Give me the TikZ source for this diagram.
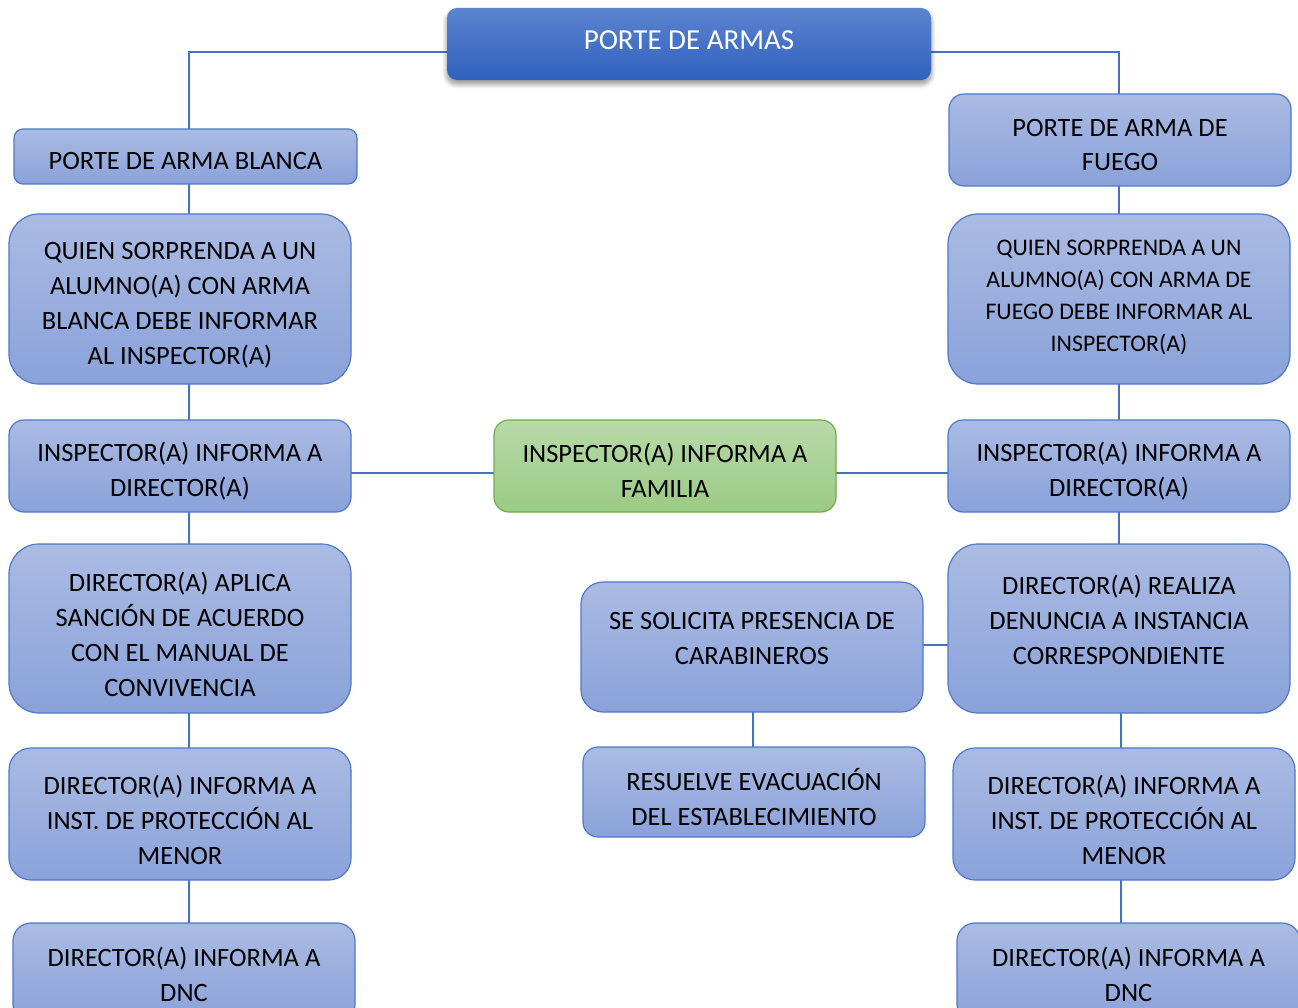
\documentclass[tikz,border=0pt]{standalone}
\usepackage{fontspec}
\setmainfont{Carlito}
\usetikzlibrary{shadows.blur,backgrounds}
\definecolor{btop}{HTML}{AABBE3}
\definecolor{bbot}{HTML}{8AA2DA}
\definecolor{bdraw}{HTML}{4F78C8}
\definecolor{gtop}{HTML}{B7DAA8}
\definecolor{gbot}{HTML}{9BCB84}
\definecolor{gdraw}{HTML}{70AD47}
\definecolor{ttop}{HTML}{5C84D0}
\definecolor{tbot}{HTML}{2F61BE}
\definecolor{conn}{HTML}{4472C4}
\tikzset{
 box/.style={draw=bdraw, line width=1.2pt, top color=btop, bottom color=bbot, outer sep=0pt, inner sep=0pt},
 gbox/.style={draw=gdraw, line width=1.2pt, top color=gtop, bottom color=gbot, outer sep=0pt, inner sep=0pt},
 tbox/.style={top color=ttop, bottom color=tbot, draw=none, outer sep=0pt, inner sep=0pt,
   blur shadow={shadow xshift=0pt, shadow yshift=-4pt, shadow blur radius=5pt, shadow blur steps=10, shadow opacity=45}},
 txt/.style={align=center, inner sep=0pt, font=\fontsize{26.5}{35}\selectfont},
 txtsmall/.style={align=center, inner sep=0pt, font=\fontsize{23.8}{32}\selectfont},
 ttxt/.style={align=center, inner sep=0pt, text=white, font=\fontsize{29}{35}\selectfont},
 conline/.style={draw=conn, line width=1.6pt},
}
% #1 style, #2 name, #3 x1, #4 y1, #5 x2, #6 y2, #7 radius, #8 text y, #9 text
\newcommand\bx[9]{%
 \node[#1, rounded corners=#7pt, minimum width={(#5-#3)*1pt}, minimum height={(#6-#4)*1pt}] (#2) at ({(#3+#5)/2},{(#4+#6)/2}) {};
 \node[txt] (#2t) at ({(#3+#5)/2},#8+1.5) {#9};
}
\begin{document}
\begin{tikzpicture}[x=1pt,y=-1pt]
\useasboundingbox (0,0) rectangle (1298,1008);
\coordinate (lx) at (189,0);
\coordinate (rx) at (1119,0);
\coordinate (rx2) at (1121,0);
\coordinate (cx) at (753,0);
\coordinate (hy) at (0,473);
\coordinate (sy) at (0,645);
\coordinate (ty) at (0,52);

% title
\node[tbox, rounded corners=10pt, minimum width=484pt, minimum height=72pt] (title) at (689,44) {};
\node[ttxt] (titlet) at (689,40) {PORTE DE ARMAS};

% left column
\bx{box}{b1}{14}{129}{357}{184}{9}{159}{PORTE DE ARMA BLANCA}
\bx{box}{b2}{9}{214}{351}{384}{30}{303.5}{QUIEN SORPRENDA A UN\\ALUMNO(A) CON ARMA\\BLANCA DEBE INFORMAR\\AL INSPECTOR(A)}
\bx{box}{b3}{9}{420}{351}{512}{15}{470}{INSPECTOR(A) INFORMA A\\DIRECTOR(A)}
\bx{box}{b4}{9}{544}{351}{713}{30}{632.5}{DIRECTOR(A) APLICA\\SANCIÓN DE ACUERDO\\CON EL MANUAL DE\\CONVIVENCIA}
\bx{box}{b5}{9}{748}{351}{880}{22}{818}{DIRECTOR(A) INFORMA A\\INST. DE PROTECCIÓN AL\\MENOR}
\bx{box}{b6}{13}{923}{355}{1022}{18}{973}{DIRECTOR(A) INFORMA A\\DNC}

% center
\bx{gbox}{g}{494}{420}{836}{512}{15}{469}{INSPECTOR(A) INFORMA A\\FAMILIA}
\bx{box}{sol}{581}{582}{923}{712}{22}{636.5}{SE SOLICITA PRESENCIA DE\\CARABINEROS}
\bx{box}{res}{583}{747}{925}{837}{15}{796}{RESUELVE EVACUACIÓN\\DEL ESTABLECIMIENTO}

% right column
\bx{box}{r1}{949}{94}{1291}{186}{15}{143.5}{PORTE DE ARMA DE\\FUEGO}
\node[box, rounded corners=30pt, minimum width=342pt, minimum height=170pt] (r2) at (1119,299) {};
\node[txtsmall] (r2t) at (1119,297.5) {QUIEN SORPRENDA A UN\\ALUMNO(A) CON ARMA DE\\FUEGO DEBE INFORMAR AL\\INSPECTOR(A)};
\bx{box}{r3}{948}{420}{1290}{512}{15}{470}{INSPECTOR(A) INFORMA A\\DIRECTOR(A)}
\bx{box}{r4}{948}{544}{1290}{713}{30}{618}{DIRECTOR(A) REALIZA\\DENUNCIA A INSTANCIA\\CORRESPONDIENTE}
\bx{box}{r5}{953}{748}{1295}{880}{22}{818}{DIRECTOR(A) INFORMA A\\INST. DE PROTECCIÓN AL\\MENOR}
\bx{box}{r6}{957}{923}{1300}{1022}{18}{973}{DIRECTOR(A) INFORMA A\\DNC}

\begin{scope}[on background layer]
 \draw[conline] (title.west |- ty) -| (b1.north -| lx);
 \draw[conline] (title.east |- ty) -| (r1.north -| rx);
 \draw[conline] (b1.south -| lx) -- (b6.north -| lx);
 \draw[conline] (r1.south -| rx) -- (r4.north -| rx);
 \draw[conline] (r4.south -| rx2) -- (r6.north -| rx2);
 \draw[conline] (b3.east |- hy) -- (g.west |- hy);
 \draw[conline] (g.east |- hy) -- (r3.west |- hy);
 \draw[conline] (sol.east |- sy) -- (r4.west |- sy);
 \draw[conline] (sol.south -| cx) -- (res.north -| cx);
\end{scope}
\end{tikzpicture}
\end{document}
